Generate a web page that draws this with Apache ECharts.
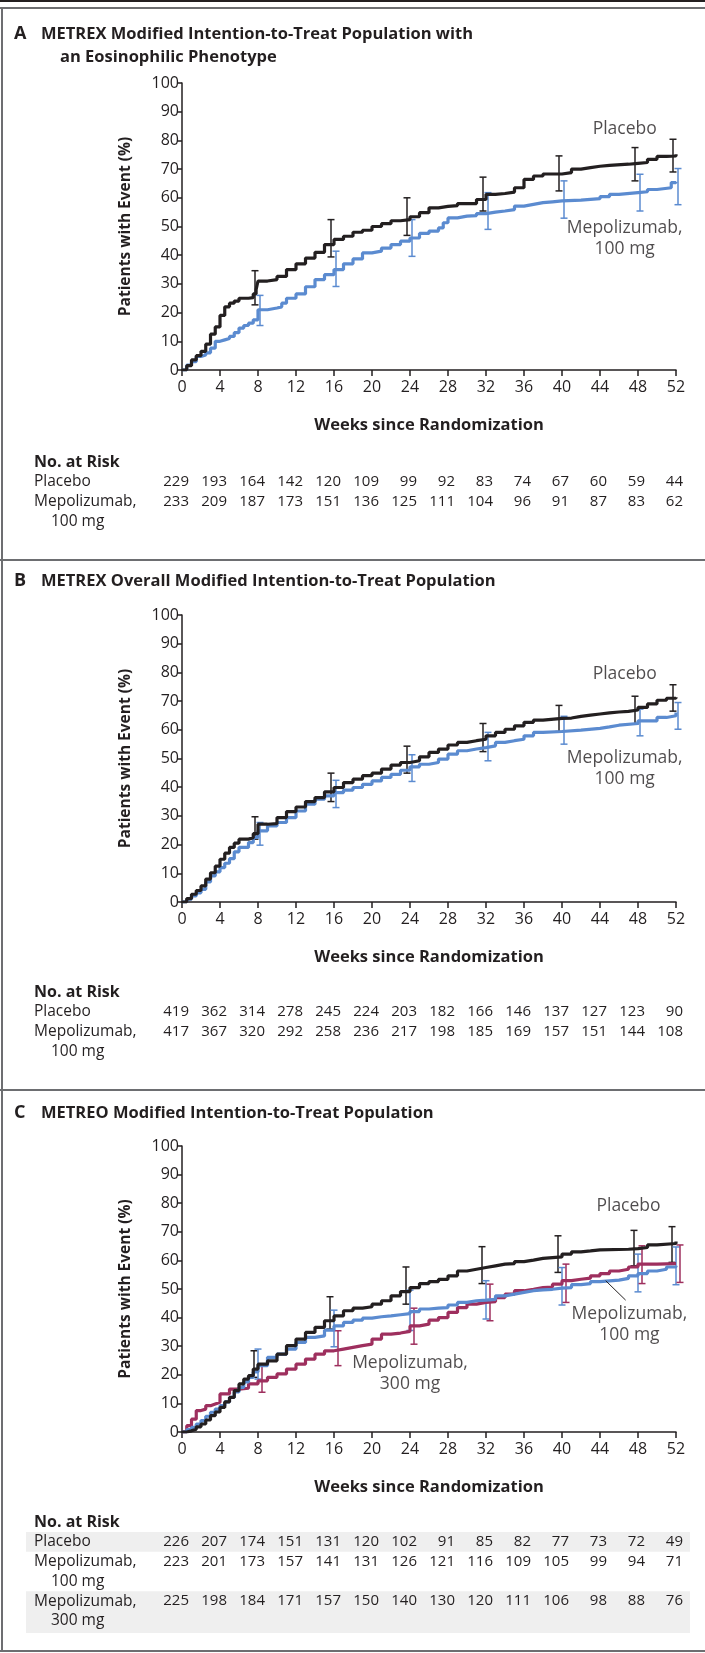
<!DOCTYPE html>
<html><head><meta charset="utf-8">
<script src="https://cdn.jsdelivr.net/npm/echarts@6/dist/echarts.min.js"></script>
<style>html,body{margin:0;padding:0;background:#fff}#c{width:705px;height:1653px}</style>
</head><body><div id="c"></div>
<script>
// ---------- DATA ----------
const riskWeeks = [0,4,8,12,16,20,24,28,32,36,40,44,48,52];

// Panel A: METREX eosinophilic
const aPlacebo = [[0,0],[0.5,1.5],[1,3.5],[1.5,5],[2,6.5],[2.5,9],[3,12.5],[3.5,15],[4,19],[4.5,22],[5,23.3],[5.5,24],[6,25],[7,25.2],[7.5,26.5],[7.8,28],[8,31],[9,31.5],[10,32.6],[11,35],[12,37],[13,39],[14,41],[15,43.7],[16,45.5],[17,46.6],[18,48],[19,48.7],[20,50],[21,51],[22,52],[23,52.4],[24,53.4],[25,54.8],[26,56.5],[27,57],[28,57.3],[29,58],[31,59.4],[32,61.2],[33,61.5],[34,62],[35,63.5],[36,66.4],[37,67.6],[38,68.3],[40,68.8],[41,70],[42,70.5],[43,71],[44,71.3],[45,71.7],[47,72],[48,72.3],[49,73.4],[50,74.4],[51,74.6],[52,75.2]];
const aMepo100 = [[0,0],[0.5,1.7],[1,2.9],[1.5,4.7],[2,5.2],[2.5,6],[3,7.6],[3.5,10],[4,10.5],[4.5,11],[5,11.7],[5.5,13],[6,14.6],[6.5,15.5],[7,16.3],[7.5,17.5],[8,21],[9,21.6],[10,22],[10.5,23.3],[11,25],[12,26.5],[13,29],[14,31.5],[15,33.2],[16,35],[17,37],[18,38.7],[19,40.8],[20,41.4],[21,42.5],[22,43.7],[23,44.9],[24,46],[25,47.6],[26,48.4],[27,49.5],[27.5,51.3],[28,53],[29,53.6],[30,53.8],[31,54.5],[32,55],[33,55.4],[34,55.9],[35,57.1],[36,57.7],[37,58.3],[38,58.6],[39,58.9],[40,59.2],[42,59.7],[44,60.4],[45,61.2],[46,61.8],[48,62.1],[49,62.9],[50,63.5],[51.5,65.3],[52,65.6]];
const aPlaceboCI = [[8,22.7,34.6],[16,39.4,52.4],[24,46.9,60],[32,55.4,67.2],[40,62.4,74.6],[48,65.9,77.5],[52,69,80.4]];
const aMepo100CI = [[8,15.5,26],[16,29.1,41.4],[24,39.6,52.4],[32,49,61.8],[40,52.9,65.9],[48,55.4,68.2],[52,57.6,70.2]];
const aRiskPlacebo = [229,193,164,142,120,109,99,92,83,74,67,60,59,44];
const aRiskMepo100 = [233,209,187,173,151,136,125,111,104,96,91,87,83,62];

// Panel B: METREX overall
const bPlacebo = [[0,0],[0.5,1.2],[1,2.7],[1.5,4],[2,5.6],[2.5,8],[3,10.2],[3.5,12.5],[4,14.9],[4.5,17],[5,19],[5.5,20.5],[6,21.9],[7,22.4],[7.5,23.8],[8,27.1],[9,27.3],[10,29.4],[11,31.5],[12,33.1],[13,35],[14,36.4],[15,38.4],[16,39.9],[17,41.6],[18,42.8],[19,44],[20,44.9],[21,46.3],[22,47.7],[23,48.6],[24,49.2],[25,50.6],[26,52.1],[27,53.3],[28,54.7],[29,55.6],[30,56.2],[31,56.7],[32,57.9],[33,59.1],[34,60.2],[35,61.4],[36,62.6],[37,63.4],[38,64],[40,64.1],[41,64.7],[42,65.1],[43,65.5],[44,65.9],[45,66.2],[46,66.4],[47,66.9],[48,67.8],[49,69],[50,70.3],[51,71],[52,71.3]];
const bMepo100 = [[0,0],[0.5,1],[1,2.1],[1.5,3.2],[2,4.4],[2.5,7],[3,9.1],[3.5,10.5],[4,12],[4.5,13.5],[5,15.1],[5.5,17.5],[6,19],[7,20.7],[7.5,22.5],[8,24.8],[9,26.5],[10,27.7],[11,29.4],[12,31.7],[13,34.1],[14,35.8],[15,37],[16,38.1],[17,39],[18,39.9],[19,41],[20,42.2],[21,43.4],[22,44.5],[23,45.9],[24,47.1],[25,48],[26,48.6],[27,49.8],[28,51.5],[29,52.7],[30,53.3],[31,53.8],[32,54.4],[33,55.6],[34,56.2],[35,56.7],[36,57.9],[37,59.1],[38,59.4],[40,59.9],[42,60.5],[44,61],[45,61.6],[46,62.2],[48,63.1],[50,64.3],[51,64.9],[52,66]];
const bPlaceboCI = [[8,21.9,29.7],[16,35,44.9],[24,44.9,54.3],[32,52.4,62.2],[40,59.4,68.5],[48,62,71.7],[52,66.5,75.7]];
const bMepo100CI = [[8,19.8,27.7],[16,32.9,42.4],[24,42,51.3],[32,49.2,59.1],[40,55,64.7],[48,57.9,67.2],[52,60.2,69.5]];
const bRiskPlacebo = [419,362,314,278,245,224,203,182,166,146,137,127,123,90];
const bRiskMepo100 = [417,367,320,292,258,236,217,198,185,169,157,151,144,108];

// Panel C: METREO
const cPlacebo = [[0,0],[0.5,0.4],[1,1],[1.5,1.8],[2,2.8],[2.5,4.2],[3,5.7],[3.5,7],[4,8.6],[4.5,10.5],[5,12.1],[5.5,14.5],[6,16.8],[6.5,18.5],[7,19.7],[7.5,22],[8,23.7],[9,24.9],[10,27.2],[11,30.2],[12,32.5],[13,34.8],[14,36.6],[15,38.9],[16,40.6],[17,42.4],[18,43.3],[19,43.8],[20,44.7],[21,45.9],[22,47.6],[23,49.1],[24,50.5],[25,51.9],[26,52.6],[27,53.4],[28,54.6],[29,56.3],[30,56.9],[31,57.5],[32,58.1],[33,58.7],[34,58.9],[35,59.6],[36,60.1],[37,60.7],[38,61],[39,61.2],[40,62.2],[41,63],[42,63.3],[43,63.7],[44,63.9],[47,64.1],[48,64.5],[49,65.4],[50,65.9],[52,66.6]];
const cMepo100 = [[0,0],[0.5,0.8],[1,1.6],[1.5,2.8],[2,4],[2.5,5.5],[3,6.9],[3.5,8],[4,9.2],[4.5,10.5],[5,12.1],[5.5,14],[6,15.6],[6.5,17.5],[7,19.1],[7.5,21],[8,23.2],[9,26.1],[10,27.2],[11,29],[12,31.3],[13,33.1],[14,33.6],[15,35.6],[16,37.1],[17,38.3],[18,39.1],[19,39.8],[20,40.3],[21,40.6],[22,41],[23,41.4],[24,42.1],[25,43],[26,43.3],[27,43.5],[28,44.4],[29,45.3],[30,45.9],[31,46.1],[32,46.4],[33,47.6],[34,48.2],[35,48.8],[36,49.4],[37,49.7],[38,49.9],[39,50.3],[40,50.5],[41,51.5],[42,51.9],[43,52.6],[44,53.1],[46,53.7],[47,54.6],[48,55.4],[49,56.3],[50,56.9],[51,57.7],[52,58.1]];
const cMepo300 = [[0,0],[0.5,2.2],[1,4.5],[1.5,7.5],[2,8],[2.5,9.2],[3,9.8],[3.5,10.4],[4,13.3],[5,15],[6,15.3],[7,16.8],[8,17.9],[9,19.1],[10,20.3],[11,22],[12,23.7],[13,25.5],[14,27.2],[15,28.4],[16,29],[17,29.6],[18,30.2],[19,30.7],[20,32.5],[21,34.2],[22,34.6],[23,35.2],[24,37.1],[25,37.7],[26,39.1],[27,40],[28,41.8],[29,43.5],[30,44.7],[31,45.3],[32,45.6],[33,47],[34,48.2],[35,49.4],[36,49.9],[37,50.5],[38,50.7],[39,51.7],[40,52.9],[41,53.4],[42,53.8],[43,54.6],[44,55.4],[45,56.3],[46,56.9],[47,57.7],[48,58.7],[50,58.9],[52,58.9]];
const cPlaceboCI = [[8,19.1,28.4],[16,36,47.3],[24,44.7,57.7],[32,51.9,64.8],[40,55.8,68.6],[48,58.1,70.5],[52,59.3,71.8]];
const cMepo100CI = [[8,18.5,29],[16,29.8,42.6],[24,35.5,49.6],[32,39.5,52.9],[40,44.4,57.5],[48,49,62.2],[52,51.5,64.7]];
const cMepo300CI = [[8,13.9,23.7],[16,23.2,35.4],[24,30.7,43.3],[32,38.9,51.7],[40,45.3,58.7],[48,51.9,65.1],[52,52.3,65.4]];
const cRiskPlacebo = [226,207,174,151,131,120,102,91,85,82,77,73,72,49];
const cRiskMepo100 = [223,201,173,157,141,131,126,121,116,109,105,99,94,71];
const cRiskMepo300 = [225,198,184,171,157,150,140,130,120,111,106,98,88,76];

// curve annotations [week, percent, text]
const aLabels = [[46.6,84,'Placebo'],[46.6,49.3,'Mepolizumab,'],[46.6,42,'100 mg']];
const bLabels = [[46.6,79.4,'Placebo'],[46.6,50,'Mepolizumab,'],[46.6,42.7,'100 mg']];
const cLabels = [[47,79,'Placebo'],[47.1,41.4,'Mepolizumab,'],[47.1,34,'100 mg'],[24,24.1,'Mepolizumab,'],[24,16.8,'300 mg']];
const cLeader = [[44.6,52.9],[46.7,46.1]];

const titles = [
  {letter:'A', lines:['METREX Modified Intention-to-Treat Population with','an Eosinophilic Phenotype']},
  {letter:'B', lines:['METREX Overall Modified Intention-to-Treat Population']},
  {letter:'C', lines:['METREO Modified Intention-to-Treat Population']}
];
const rowNames = [['Placebo'],['Mepolizumab,','100 mg'],['Mepolizumab,','300 mg']];

// ---------- STYLE ----------
const FONT = "'Open Sans', sans-serif";
const INK = '#231f20', BLUE = '#5b8bd0', MAROON = '#9e2f5e', FRAME = '#6d6e71';
const grids = [
  {left:182, top:83, width:494, height:287},
  {left:182, top:615, width:494, height:287},
  {left:182, top:1146, width:494, height:286}
];

const chart = echarts.init(document.getElementById('c'), null, {renderer:'canvas'});

function xAxis(i){
  return {gridIndex:i, type:'value', min:0, max:52, interval:4,
    name:'Weeks since Randomization', nameLocation:'middle', nameGap:47,
    nameTextStyle:{fontFamily:FONT, fontWeight:'bold', fontSize:16.5, color:INK},
    axisLine:{lineStyle:{color:INK, width:1.5}},
    axisTick:{length:6, lineStyle:{color:INK, width:1.5}},
    axisLabel:{fontFamily:FONT, fontSize:16, color:INK, margin:9},
    splitLine:{show:false}};
}
function yAxis(i){
  return {gridIndex:i, type:'value', min:0, max:100, interval:10,
    name:'Patients with Event (%)', nameLocation:'middle', nameGap:48, nameRotate:90,
    nameTextStyle:{fontFamily:FONT, fontWeight:'bold', fontSize:15.5, color:INK},
    axisLine:{show:true, lineStyle:{color:INK, width:1.5}},
    axisTick:{show:true, length:5, lineStyle:{color:INK, width:1.5}},
    axisLabel:{fontFamily:FONT, fontSize:16, color:INK, margin:3},
    splitLine:{show:false}};
}
function curve(i, data, color, z){
  return {type:'line', xAxisIndex:i, yAxisIndex:i, data:data, step:'end', symbol:'none',
    lineStyle:{color:color, width:3.2}, z:z, animation:false};
}
function ci(i, data, color, dx, z){
  return {type:'custom', xAxisIndex:i, yAxisIndex:i, data:data, z:z, animation:false,
    renderItem:function(params, api){
      const lo = api.coord([api.value(0), api.value(1)]);
      const hi = api.coord([api.value(0), api.value(2)]);
      const x = lo[0] + dx, c = 3.5;
      const st = {stroke:color, lineWidth:1.5, fill:null};
      return {type:'group', children:[
        {type:'line', shape:{x1:x, y1:lo[1], x2:x, y2:hi[1]}, style:st},
        {type:'line', shape:{x1:x-c, y1:lo[1], x2:x+c, y2:lo[1]}, style:st},
        {type:'line', shape:{x1:x-c, y1:hi[1], x2:x+c, y2:hi[1]}, style:st}
      ]};
    }};
}
function labels(i, data){
  return {type:'scatter', xAxisIndex:i, yAxisIndex:i, symbolSize:0, animation:false, silent:true, z:10,
    data:data.map(d=>({value:[d[0], d[1]], name:d[2]})),
    label:{show:true, position:'inside', formatter:p=>p.name, fontFamily:FONT, fontSize:17.5, color:INK}};
}

const series = [
  ci(0, aPlaceboCI, INK, -3, 3), ci(0, aMepo100CI, BLUE, 2, 3),
  curve(0, aMepo100, BLUE, 4), curve(0, aPlacebo, INK, 5),
  labels(0, aLabels),
  ci(1, bPlaceboCI, INK, -3, 3), ci(1, bMepo100CI, BLUE, 2, 3),
  curve(1, bMepo100, BLUE, 4), curve(1, bPlacebo, INK, 5),
  labels(1, bLabels),
  ci(2, cPlaceboCI, INK, -4, 3), ci(2, cMepo100CI, BLUE, 0, 3), ci(2, cMepo300CI, MAROON, 4, 3),
  curve(2, cPlacebo, INK, 5), curve(2, cMepo300, MAROON, 4),
  Object.assign(curve(2, cMepo100, BLUE, 4.5), {markLine:{silent:true, symbol:'none', animation:false,
    lineStyle:{color:INK, width:1, type:'solid'}, label:{show:false},
    data:[[{coord:cLeader[0]},{coord:cLeader[1]}]]}}),
  labels(2, cLabels)
];

chart.setOption({
  animation:false,
  grid:grids,
  xAxis:[xAxis(0), xAxis(1), xAxis(2)],
  yAxis:[yAxis(0), yAxis(1), yAxis(2)],
  series:series
});

// ---------- frame, titles, risk tables ----------
const g = [];
g.push({type:'rect', shape:{x:0, y:0, width:705, height:2}, style:{fill:INK}, silent:true});
[8, 560, 1090, 1651].forEach(y=>g.push({type:'rect', shape:{x:0, y:y-1, width:705, height:2}, style:{fill:FRAME}, silent:true}));
g.push({type:'rect', shape:{x:1, y:8, width:2, height:1644}, style:{fill:FRAME}, silent:true});

const titleY = [34, 581, 1113];
titles.forEach((t, i)=>{
  g.push({type:'text', x:14, y:titleY[i], style:{text:t.letter, font:'bold 18px '+FONT, fill:INK, textVerticalAlign:'middle'}});
  t.lines.forEach((ln, k)=>{
    g.push({type:'text', x:k===0?41:60, y:titleY[i]+k*23, style:{text:ln, font:'bold 16.5px '+FONT, fill:INK, textVerticalAlign:'middle'}});
  });
});

const tables = [
  {top:462, rows:[aRiskPlacebo, aRiskMepo100], names:[rowNames[0], rowNames[1]]},
  {top:992, rows:[bRiskPlacebo, bRiskMepo100], names:[rowNames[0], rowNames[1]]},
  {top:1522, rows:[cRiskPlacebo, cRiskMepo100, cRiskMepo300], names:[rowNames[0], rowNames[1], rowNames[2]], shade:[0,2]}
];
const LINE = 19.8;
tables.forEach((tb, i)=>{
  g.push({type:'text', x:34, y:tb.top, style:{text:'No. at Risk', font:'bold 16px '+FONT, fill:INK, textVerticalAlign:'middle'}});
  let y = tb.top + LINE;
  tb.rows.forEach((row, r)=>{
    const nl = tb.names[r].length;
    if (tb.shade && tb.shade.indexOf(r) >= 0) {
      g.push({type:'rect', z:-1, shape:{x:26, y:y-LINE/2, width:664, height:LINE*nl+(nl>1?2:0)}, style:{fill:'#efefef'}, silent:true});
    }
    tb.names[r].forEach((nm, k)=>{
      g.push({type:'text', x:k===0?34:51, y:y+k*LINE, style:{text:nm, font:'15.5px '+FONT, fill:INK, textVerticalAlign:'middle'}});
    });
    row.forEach((v, j)=>{
      const px = chart.convertToPixel({gridIndex:i}, [riskWeeks[j], 0]);
      g.push({type:'text', x:px[0]+7, y:y, style:{text:String(v), font:'15px '+FONT, fill:INK, textAlign:'right', textVerticalAlign:'middle'}});
    });
    y += LINE*nl;
  });
});
chart.setOption({graphic:{elements:g}});
</script></body></html>
